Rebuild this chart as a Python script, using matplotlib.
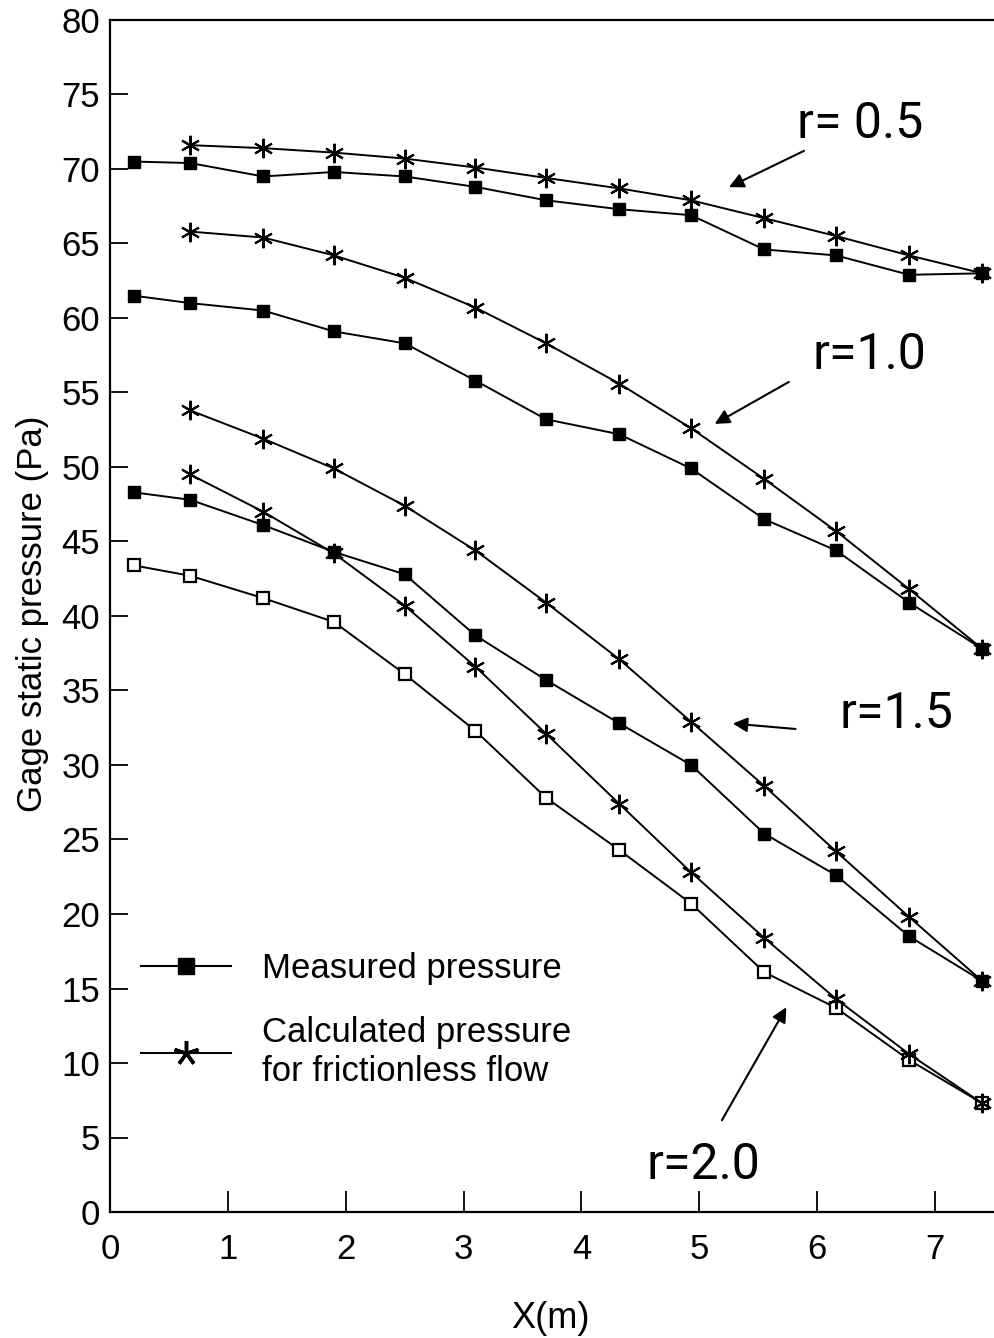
import matplotlib
matplotlib.use('Agg')
import matplotlib.pyplot as plt
from matplotlib.lines import Line2D

# x positions of the pressure taps (m)
x_meas = [0.2, 0.68, 1.3, 1.9, 2.5, 3.1, 3.7, 4.32, 4.93, 5.55, 6.16, 6.78, 7.4]
x_calc = x_meas[1:]

# measured pressure (Pa)
meas_05 = [70.5, 70.4, 69.5, 69.8, 69.5, 68.8, 67.9, 67.3, 66.9, 64.6, 64.2, 62.9, 63.0]
meas_10 = [61.5, 61.0, 60.5, 59.1, 58.3, 55.8, 53.2, 52.2, 49.9, 46.5, 44.4, 40.9, 37.8]
meas_15 = [48.3, 47.8, 46.1, 44.3, 42.8, 38.7, 35.7, 32.8, 30.0, 25.4, 22.6, 18.5, 15.5]
meas_20 = [43.4, 42.7, 41.2, 39.6, 36.1, 32.3, 27.8, 24.3, 20.7, 16.1, 13.7, 10.2, 7.3]

# calculated pressure for frictionless flow (Pa)
calc_05 = [71.6, 71.4, 71.1, 70.7, 70.1, 69.4, 68.7, 67.9, 66.7, 65.5, 64.2, 63.0]
calc_10 = [65.8, 65.4, 64.2, 62.7, 60.7, 58.3, 55.6, 52.6, 49.2, 45.7, 41.8, 37.8]
calc_15 = [53.8, 51.9, 49.9, 47.4, 44.4, 40.9, 37.1, 32.9, 28.6, 24.2, 19.8, 15.5]
calc_20 = [49.5, 47.0, 44.2, 40.7, 36.6, 32.1, 27.4, 22.8, 18.4, 14.3, 10.6, 7.3]

x_ticks = [0, 1, 2, 3, 4, 5, 6, 7]
y_ticks = list(range(0, 85, 5))

plt.rcParams['font.family'] = ['Liberation Sans', 'DejaVu Sans']

fig = plt.figure(figsize=(9.94, 13.38), dpi=100)
ax = fig.add_axes([110 / 994, 126 / 1338, 884 / 994, 1192 / 1338])

star = (6, 2, 0)
lw = 1.4
for ym in [meas_05, meas_10, meas_15]:
    ax.plot(x_meas, ym, color='k', lw=lw, marker='s', ms=8.5,
            mfc='k', mec='k')
ax.plot(x_meas, meas_20, color='k', lw=lw, marker='s', ms=8,
        mfc='white', mec='k', mew=1.6)
for yc in [calc_05, calc_10, calc_15, calc_20]:
    ax.plot(x_calc, yc, color='k', lw=lw, marker=star, ms=14, mew=1.5)

ax.set_xlim(0, 7.5)
ax.set_ylim(0, 80)
ax.set_xticks(x_ticks)
ax.set_yticks(y_ticks)
ax.tick_params(axis='both', direction='in', width=1.3, labelsize=25)
ax.tick_params(axis='x', length=15, pad=15)
ax.tick_params(axis='y', length=13, pad=7)
for s in ax.spines.values():
    s.set_linewidth(1.6)
ax.spines['right'].set_visible(False)

fig.text(33 / 994, 1 - 614 / 1338, 'Gage static pressure (Pa)', rotation=90,
         ha='center', va='center', fontsize=25)
fig.text(550 / 994, 1 - 1318 / 1338, 'X(m)', ha='center', va='center',
         fontsize=26)

# curve labels with arrows
lab_kw = dict(fontsize=36, family=['Roboto', 'DejaVu Sans'],
              va='center', ha='left')
arr = dict(arrowstyle='-|>', color='k', lw=1.5, mutation_scale=22)
ax.text(5.83, 73.0, 'r= 0.5', **lab_kw)
ax.annotate('', xy=(5.23, 68.7), xytext=(5.91, 71.3), arrowprops=arr)
ax.text(5.96, 57.5, 'r=1.0', **lab_kw)
ax.annotate('', xy=(5.11, 52.8), xytext=(5.78, 55.8), arrowprops=arr)
ax.text(6.19, 33.4, 'r=1.5', **lab_kw)
ax.annotate('', xy=(5.26, 32.8), xytext=(5.84, 32.4), arrowprops=arr)
ax.text(4.55, 3.15, 'r=2.0', **lab_kw)
ax.annotate('', xy=(5.75, 13.9), xytext=(5.18, 6.0), arrowprops=arr)

handles = [
    Line2D([], [], color='k', lw=1.5, marker='s', ms=12),
    Line2D([], [], color='k', lw=1.5, marker=(5, 2, 0), ms=18, mew=2.5),
]
ax.legend(handles, ['Measured pressure',
                    'Calculated pressure\nfor frictionless flow'],
          loc='upper left', bbox_to_anchor=(0.035, 0.218), frameon=False,
          fontsize=25, handlelength=2.6, handletextpad=0.9,
          labelspacing=0.9, borderpad=0, borderaxespad=0)

fig.savefig('out.png', dpi=100)
